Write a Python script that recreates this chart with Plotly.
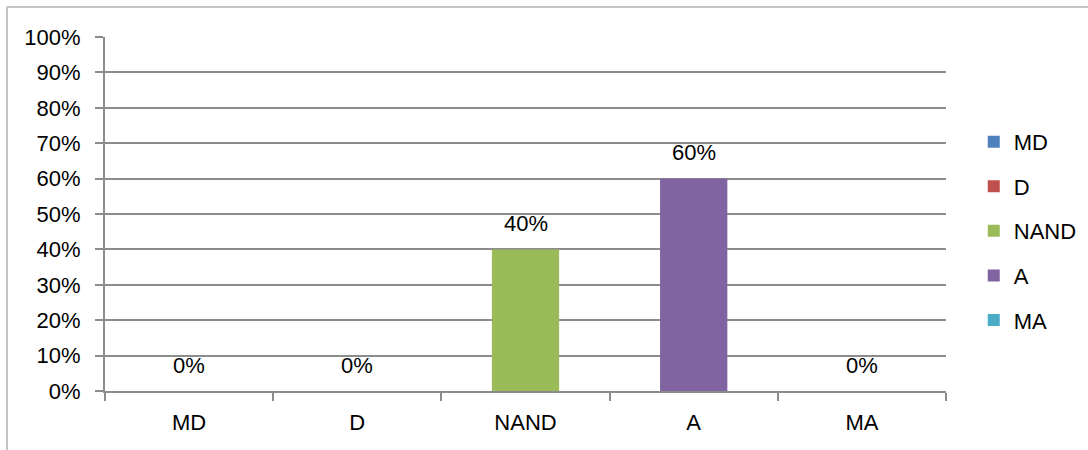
import plotly.graph_objects as go

# Response categories and their share of answers (percent)
categories = ["MD", "D", "NAND", "A", "MA"]
values = [0, 0, 40, 60, 0]
colors = ["#4F81BD", "#C0504D", "#9BBB59", "#8064A2", "#4BACC6"]
y_ticks = list(range(0, 101, 10))
y_tick_labels = [f"{v}%" for v in y_ticks]

FONT = "Liberation Sans, Arial, sans-serif"
FSIZE = 22
GRID = "#8c8c8c"

fig = go.Figure()
for i, (cat, val, col) in enumerate(zip(categories, values, colors)):
    fig.add_trace(go.Bar(
        x=[cat], y=[val], name=cat, width=0.4,
        marker=dict(color=col, line=dict(width=0)),
        legendgroup=f"g{i}",
        hoverinfo="skip",
    ))

# value labels above each bar
for cat, val in zip(categories, values):
    fig.add_annotation(
        x=cat, y=val, xref="x", yref="y",
        text=f"{val}%", showarrow=False,
        yanchor="middle", yshift=26,
        font=dict(family=FONT, size=FSIZE, color="#000000"),
    )

# light frame along the top and left edges of the chart
fig.add_shape(type="line", xref="paper", yref="paper",
              x0=-0.1165, x1=1.3, y0=1.0847, y1=1.0847,
              line=dict(color="#c4c4c4", width=2))
fig.add_shape(type="line", xref="paper", yref="paper",
              x0=-0.1165, x1=-0.1165, y0=-0.3, y1=1.0847,
              line=dict(color="#c4c4c4", width=2))

fig.update_layout(
    width=1088, height=450,
    margin=dict(l=105, r=142, t=37, b=59),
    paper_bgcolor="white", plot_bgcolor="white",
    barmode="overlay",
    font=dict(family=FONT, size=FSIZE, color="#000000"),
    showlegend=True,
    legend=dict(
        xref="container", yref="container",
        x=0.895, y=0.487, xanchor="left", yanchor="middle",
        font=dict(family=FONT, size=FSIZE, color="#000000"),
        tracegroupgap=13, itemwidth=30,
        bgcolor="rgba(0,0,0,0)",
    ),
)

fig.update_xaxes(
    type="category", categoryorder="array", categoryarray=categories,
    showgrid=False, showline=True, linecolor=GRID, linewidth=2,
    ticks="outside", tickson="boundaries", ticklen=8, tickwidth=2, tickcolor=GRID,
    tickfont=dict(family=FONT, size=FSIZE, color="#000000"),
    ticklabelstandoff=11, automargin=False,
)
fig.update_yaxes(
    range=[0, 100], tickvals=y_ticks, ticktext=y_tick_labels,
    showgrid=True, gridcolor=GRID, gridwidth=2,
    showline=True, linecolor=GRID, linewidth=2,
    ticks="outside", ticklen=8, tickwidth=2, tickcolor=GRID,
    tickfont=dict(family=FONT, size=FSIZE, color="#000000"),
    ticklabelstandoff=10, zeroline=False, automargin=False,
)

fig.write_html("out.html")
